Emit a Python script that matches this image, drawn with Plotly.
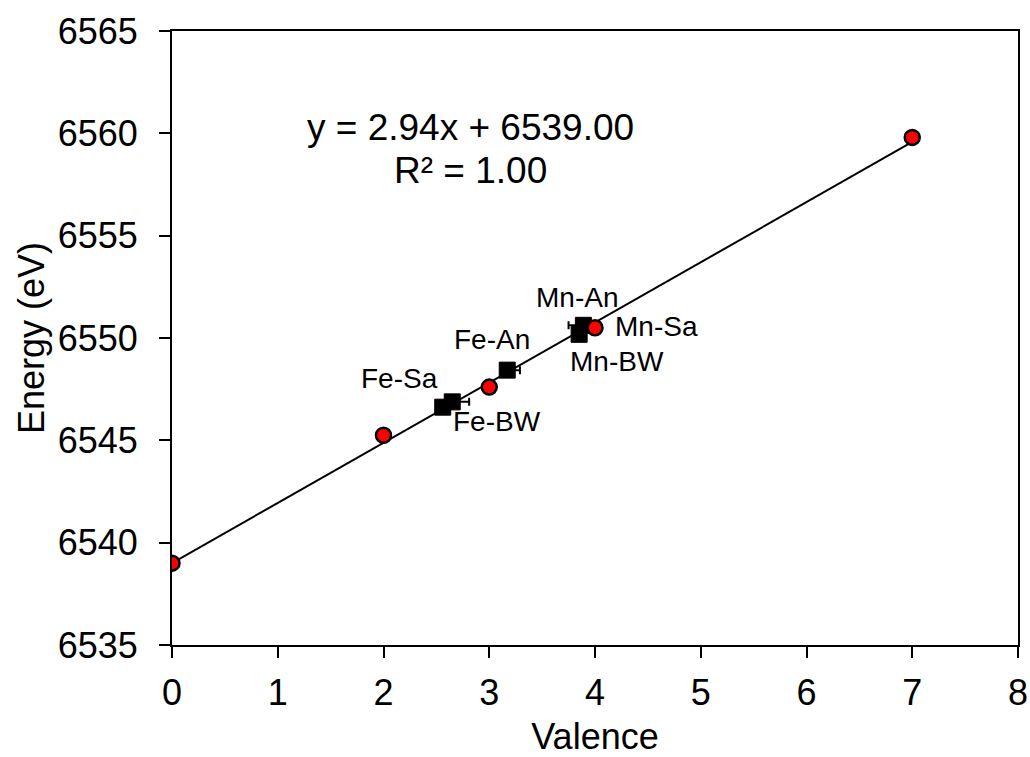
import plotly.graph_objects as go

# Reference standards: valence vs. edge energy
std_valence = [0, 2, 3, 4, 7]
std_energy = [6539.0, 6545.25, 6547.6, 6550.5, 6559.8]

# Samples
sample_names = ["Fe-Sa", "Fe-BW", "Fe-An", "Mn-An", "Mn-BW"]
sample_valence = [2.56, 2.65, 3.17, 3.89, 3.85]
sample_energy = [6546.62, 6546.88, 6548.43, 6550.62, 6550.18]
sample_err_plus = [0.0, 0.16, 0.12, 0.0, 0.0]
sample_err_minus = [0.0, 0.0, 0.0, 0.14, 0.0]

# Linear fit
slope = 2.94
intercept = 6539.00
fit_x = [0, 7]
fit_y = [slope * v + intercept for v in fit_x]

# Label text positions
label_names = ["Fe-Sa", "Fe-BW", "Fe-An", "Mn-An", "Mn-Sa", "Mn-BW"]
label_x = [2.15, 3.07, 3.03, 3.83, 4.58, 4.21]
label_y = [6548.0, 6545.9, 6549.95, 6552.0, 6550.55, 6548.85]

FONT = "Liberation Sans, Arial, sans-serif"

fig = go.Figure()

fig.add_trace(go.Scatter(
    x=fit_x, y=fit_y, mode="lines",
    line=dict(color="black", width=2),
    hoverinfo="skip", showlegend=False,
))

fig.add_trace(go.Scatter(
    x=sample_valence, y=sample_energy, mode="markers",
    marker=dict(symbol="square", size=16, color="black",
                line=dict(color="black", width=1)),
    error_x=dict(type="data", symmetric=False,
                 array=sample_err_plus, arrayminus=sample_err_minus,
                 color="black", thickness=2, width=4),
    text=sample_names, showlegend=False,
))

fig.add_trace(go.Scatter(
    x=std_valence, y=std_energy, mode="markers",
    marker=dict(symbol="circle", size=15, color="#ff0000",
                line=dict(color="black", width=2.5)),
    showlegend=False,
))

for name, lx, ly in zip(label_names, label_x, label_y):
    fig.add_annotation(x=lx, y=ly, text=name, showarrow=False,
                       font=dict(family=FONT, size=28, color="black"),
                       xanchor="center", yanchor="middle")

fig.add_annotation(x=2.82, y=6560.3,
                   text=f"y = {slope:.2f}x + {intercept:.2f}",
                   showarrow=False, xanchor="center", yanchor="middle",
                   font=dict(family=FONT, size=37, color="black"))
fig.add_annotation(x=2.82, y=6558.2, text="R² = 1.00",
                   showarrow=False, xanchor="center", yanchor="middle",
                   font=dict(family=FONT, size=37, color="black"))

axis_common = dict(
    showgrid=False, zeroline=False, automargin=False,
    showline=True, linecolor="black", linewidth=2, mirror=True,
    ticks="outside", ticklen=11, tickwidth=2, tickcolor="black",
    tickfont=dict(family=FONT, size=36, color="black"),
)

fig.update_xaxes(range=[0, 8], dtick=1, tick0=0, ticklabelstandoff=4,
                 title=dict(text="Valence", standoff=12,
                            font=dict(family=FONT, size=36, color="black")),
                 **axis_common)
fig.update_yaxes(range=[6535, 6565], dtick=5, tick0=6535, ticklabelstandoff=14,
                 title=dict(text="Energy (eV)", standoff=2,
                            font=dict(family=FONT, size=36, color="black")),
                 **axis_common)

fig.update_layout(
    width=1030, height=757,
    margin=dict(l=172, r=12, t=31, b=112),
    paper_bgcolor="white", plot_bgcolor="white",
    showlegend=False,
)

fig.write_html("out.html")
